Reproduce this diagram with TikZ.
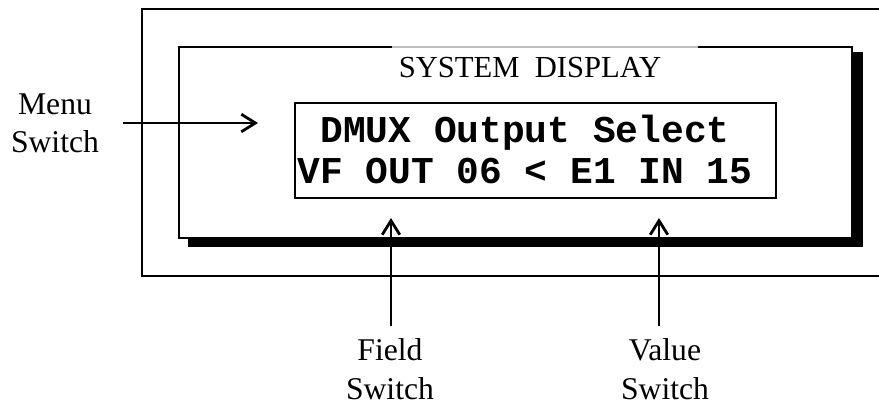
\documentclass[tikz,border=0pt]{standalone}
\usepackage{fontspec}
\setmainfont{Liberation Serif}
\newfontfamily\lcdfont{Liberation Mono}
\usetikzlibrary{arrows.meta}

\begin{document}
\begin{tikzpicture}[x=0.01cm,y=-0.01cm,
    frame/.style={line width=0.7pt},
    arr/.style={line width=0.8pt,-{Straight Barb[length=4pt,width=5pt]}},
    lbl/.style={align=center,font=\fontsize{9}{10.9}\selectfont},
    lcdtext/.style={align=left,inner xsep=0pt,font=\lcdfont\bfseries\fontsize{10.77}{11.67}\selectfont}]

  \useasboundingbox (0,0) rectangle (879,402);

  \draw[frame] (879,9) -- (142,9) -- (142,276) -- (879,276);

  \fill (188,52) rectangle (863,247);
  \fill[white] (179,47) rectangle (852,238);
  \draw[frame] (698,47) -- (852,47) -- (852,238) -- (179,238) -- (179,47) -- (392,47);
  \draw[gray!50,line width=0.3pt] (392,47) -- (698,47);
  \node[anchor=base,font=\fontsize{8.7}{10}\selectfont] (title) at (530,77) {SYSTEM~~DISPLAY};

  \draw[frame] (295,103) rectangle (776,198);
  \node[lcdtext,anchor=west] (lcd) at (297,149.5) {\ DMUX Output Select\\VF OUT 06 < E1 IN 15};

  \node[lbl] (menu) at (55,123) {Menu\\Switch};
  \node[lbl] (field) at (390,369) {Field\\Switch};
  \node[lbl] (value) at (665,369) {Value\\Switch};

  \coordinate (menuTip) at (258,123);
  \coordinate (fieldTip) at (391,218);
  \coordinate (valueTip) at (659,218);
  \draw[arr] ([xshift=0.12cm]menu.east) -- (menuTip);
  \draw[arr] (fieldTip |- field.north) -- (fieldTip);
  \draw[arr] (valueTip |- value.north) -- (valueTip);

\end{tikzpicture}
\end{document}
